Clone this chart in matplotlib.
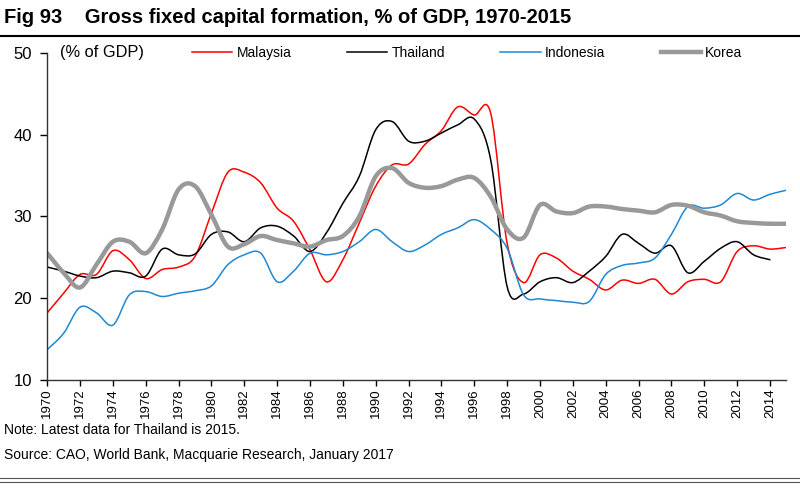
import numpy as np
import matplotlib
matplotlib.use('Agg')
import matplotlib.pyplot as plt
from matplotlib.path import Path
from matplotlib.patches import PathPatch
from matplotlib.lines import Line2D

# Gross fixed capital formation, % of GDP
years = list(range(1970, 2016))
malaysia = [18.2, 20.6, 22.9, 22.9, 25.8, 24.7, 22.4, 23.5, 23.8, 25.1,
            30.4, 35.4, 35.4, 34.1, 31.0, 29.4, 25.9, 22.0, 24.7, 29.2,
            33.7, 36.3, 36.4, 38.8, 40.5, 43.4, 42.4, 42.6, 26.7, 21.9,
            25.3, 24.9, 23.3, 22.3, 21.0, 22.2, 21.8, 22.3, 20.5, 22.0,
            22.3, 22.0, 25.7, 26.4, 26.0, 26.2]
thailand = [23.8, 23.3, 22.7, 22.5, 23.3, 23.1, 22.7, 26.0, 25.3, 25.4,
            27.8, 28.1, 26.9, 28.6, 28.8, 27.6, 25.7, 28.0, 31.6, 34.9,
            40.6, 41.6, 39.2, 39.2, 40.2, 41.2, 41.9, 36.9, 21.4, 20.5,
            22.0, 22.5, 21.9, 23.3, 25.1, 27.8, 26.7, 25.5, 26.4, 23.1,
            24.5, 26.1, 26.9, 25.3, 24.7]
indonesia = [13.7, 15.7, 18.9, 18.2, 16.7, 20.4, 20.8, 20.2, 20.6, 20.9,
             21.5, 24.1, 25.3, 25.5, 22.0, 23.3, 25.5, 25.3, 25.7, 26.9,
             28.4, 26.9, 25.7, 26.5, 27.8, 28.6, 29.6, 28.4, 26.1, 20.4,
             19.9, 19.7, 19.5, 19.6, 22.9, 24.0, 24.3, 24.9, 27.8, 31.2,
             31.0, 31.4, 32.8, 32.0, 32.7, 33.2]
korea = [25.5, 23.1, 21.3, 24.1, 26.9, 26.9, 25.5, 28.4, 33.3, 33.7,
         30.2, 26.3, 26.6, 27.6, 27.1, 26.7, 26.3, 27.1, 27.6, 30.0,
         34.9, 35.9, 34.1, 33.5, 33.7, 34.5, 34.7, 32.4, 28.4, 27.4,
         31.4, 30.6, 30.4, 31.2, 31.2, 30.9, 30.7, 30.5, 31.4, 31.3,
         30.5, 30.1, 29.4, 29.2, 29.1, 29.1]

series = [('Malaysia', malaysia, '#ff0000', 1.1),
          ('Thailand', thailand, '#000000', 1.1),
          ('Indonesia', indonesia, '#1f88d2', 1.1),
          ('Korea', korea, '#999999', 3.2)]

plt.rcParams['font.family'] = ['Liberation Sans', 'DejaVu Sans']


def smooth_path(x, y):
    # excel style smoothed line: bezier segments through every point
    pts = np.column_stack([np.asarray(x, float), np.asarray(y, float)])
    n = len(pts)
    verts = [pts[0]]
    codes = [Path.MOVETO]
    for i in range(n - 1):
        p0 = pts[i - 1] if i > 0 else pts[i]
        p1 = pts[i]
        p2 = pts[i + 1]
        p3 = pts[i + 2] if i + 2 < n else pts[i + 1]
        verts += [p1 + (p2 - p0) / 6.0, p2 - (p3 - p1) / 6.0, p2]
        codes += [Path.CURVE4] * 3
    return Path(verts, codes)


fig = plt.figure(figsize=(8, 4.94), dpi=100)
ax = fig.add_axes([0.059, 0.231, 0.924, 0.662])

handles = []
for name, vals, col, lw in series:
    yrs = years[:len(vals)]
    ax.add_patch(PathPatch(smooth_path(yrs, vals), facecolor='none',
                           edgecolor=col, lw=lw, capstyle='round'))
    handles.append(Line2D([], [], color=col, lw=lw, label=name))

ax.set_xlim(1970, 2015)
ax.set_ylim(10, 50)
ax.set_yticks([10, 20, 30, 40, 50])
ax.set_xticks(years[::2])
ax.set_xticklabels([str(y) for y in years[::2]], rotation=90, fontsize=9.5)
ax.tick_params(axis='y', labelsize=12, length=5, width=1, direction='out', pad=6)
ax.tick_params(axis='x', length=4, width=1, direction='out', pad=2)
for s in ['top', 'right']:
    ax.spines[s].set_visible(False)
for s in ['left', 'bottom']:
    ax.spines[s].set_linewidth(1)
    ax.spines[s].set_color('#333333')

ax.text(0.0176, 1.0, '(% of GDP)', transform=ax.transAxes, fontsize=11.8,
        va='center', ha='left')
ax.legend(handles=handles, ncol=4, frameon=False, fontsize=10,
          loc='center left', bbox_to_anchor=(0.196, 1.0),
          handlelength=2.9, handletextpad=0.3, columnspacing=4.0,
          borderaxespad=0, borderpad=0)

fig.text(0.005, 0.965, 'Fig 93    Gross fixed capital formation, % of GDP, 1970-2015',
         fontsize=14.5, fontweight='bold', va='center', ha='left')
fig.add_artist(Line2D([0, 1], [0.928, 0.928], color='black', lw=1.5,
                      transform=fig.transFigure))

fig.text(0.005, 0.130, 'Note: Latest data for Thailand is 2015.', fontsize=10,
         va='center', ha='left')
fig.text(0.005, 0.079, 'Source: CAO, World Bank, Macquarie Research, January 2017',
         fontsize=10, va='center', ha='left')
fig.add_artist(Line2D([0, 1], [0.032, 0.032], color='#555555', lw=0.8,
                      transform=fig.transFigure))
fig.add_artist(Line2D([0, 1], [0.025, 0.025], color='#555555', lw=0.8,
                      transform=fig.transFigure))

fig.savefig('out.png', dpi=100)
